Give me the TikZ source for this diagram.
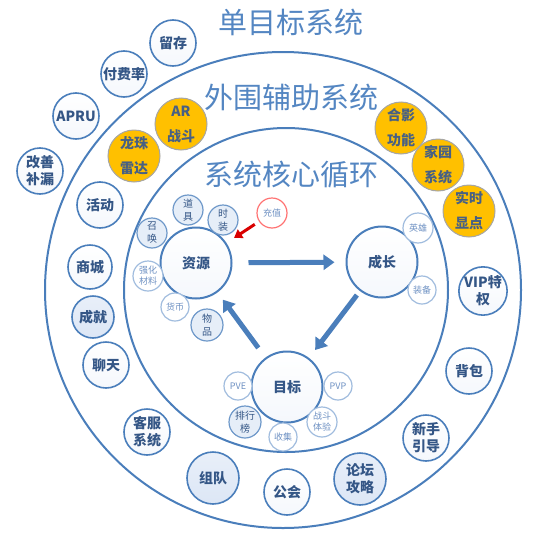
\documentclass[tikz,border=0pt]{standalone}
\usepackage{fontspec}
\newfontfamily\cjk{Noto Sans CJK SC}
\usetikzlibrary{arrows.meta}

\definecolor{ringblue}{RGB}{74,126,187}
\definecolor{titleblue}{RGB}{84,134,194}
\definecolor{textblue}{RGB}{52,86,134}
\definecolor{lightline}{RGB}{160,188,222}
\definecolor{lighttext}{RGB}{110,145,195}
\definecolor{paleblue}{RGB}{214,226,244}
\definecolor{gold}{RGB}{255,192,0}

\tikzset{
  ring/.style={draw=ringblue,line width=2pt},
  title/.style={text=titleblue,font=\cjk\fontsize{29}{29}\selectfont},
  ball/.style={circle,inner sep=0pt,align=center,draw=ringblue,line width=1.6pt,
    text=textblue,font=\cjk\bfseries\fontsize{14}{17}\selectfont,
    top color=white,bottom color=paleblue!25},
  paleball/.style={ball,top color=paleblue!55,bottom color=paleblue!85},
  goldball/.style={ball,draw=gray!70,line width=1pt,fill=gold,top color=gold,bottom color=gold,
    text=textblue!75!gray,font=\cjk\bfseries\fontsize{14}{25}\selectfont},
  core/.style={ball,line width=2pt,minimum size=71pt},
  small/.style={circle,inner sep=0pt,align=center,draw=ringblue!80,line width=1.2pt,
    fill=paleblue!60,text=textblue,font=\cjk\fontsize{10}{13}\selectfont},
  faint/.style={small,draw=lightline,fill=white,text=lighttext,font=\cjk\fontsize{9}{11}\selectfont},
  bigarrow/.style={-{Triangle[length=11pt,width=15pt]},line width=5pt,draw=ringblue},
  redarrow/.style={-{Triangle[length=8pt,width=10pt]},line width=3pt,draw=red!85!black}
}

\begin{document}
\begin{tikzpicture}[x=1pt,y=-1pt]
\useasboundingbox (0,0) rectangle (554,549);

% the two rings
\draw[ring] (283,290) circle (238);
\draw[ring] (286,290) circle (162);

\node[title] (t1) at (291,22) {单目标系统};
\node[title] (t2) at (291,97) {外围辅助系统};
\node[title] (t3) at (291,175) {系统核心循环};

% outside the rings
\foreach \x/\y/\r/\nm/\txt in {
    173/43/23/keep/留存,
    124/74/23/payrate/付费率,
    76/116/23/arpu/APRU,
    40/171/23/fix/{改善\\补漏}}
  \node[ball,minimum size=2*\r] (\nm) at (\x,\y) {\txt};

% outer ring
\foreach \x/\y/\r/\nm/\txt in {
    100/205/23/act/活动,
    90/267/22/shop/商城,
    106/365/23/chat/聊天,
    147/432/23/cs/{客服\\系统},
    287/492/23/guild/公会,
    426/438/23/guide/{新手\\引导},
    469/371/23/bag/背包,
    483/291/23/vip/{VIP特\\权}}
  \node[ball,minimum size=2*\r] (\nm) at (\x,\y) {\txt};
\foreach \x/\y/\r/\nm/\txt in {
    93/317/21/ach/成就,
    213/478/26/team/组队,
    360/479/26/forum/{论坛\\攻略}}
  \node[paleball,minimum size=2*\r] (\nm) at (\x,\y) {\txt};
\foreach \x/\y/\nm/\txt in {
    181/124/ar/{AR\\战斗},
    134/156/radar/{龙珠\\雷达},
    401/128/photo/{合影\\功能},
    438/165/home/{家园\\系统},
    469/211/spot/{实时\\显点}}
  \node[goldball,minimum size=52] (\nm) at (\x,\y) {\txt};

% core loop
\node[core] (res) at (196,263) {资源};
\node[core] (grow) at (382,262) {成长};
\node[core] (goal) at (287,387) {目标};

\foreach \x/\y/\r/\nm/\txt in {
    188/210/15/prop/{道\\具},
    223/220/15/skin/{时\\装},
    152/233/15/summon/{召\\唤},
    207/325/16/item/{物\\品},
    245/422/16/rank/{排行\\榜}}
  \node[small,minimum size=2*\r] (\nm) at (\x,\y) {\txt};
\foreach \x/\y/\r/\nm/\txt in {
    148/276/15/mat/{强化\\材料},
    175/307/14/coin/货币,
    418/228/15/hero/英雄,
    422/290/14/equip/装备,
    238/386/14/pve/PVE,
    338/386/14/pvp/PVP,
    283/437/14/collect/收集,
    322/422/15/fight/{战斗\\体验}}
  \node[faint,minimum size=2*\r] (\nm) at (\x,\y) {\txt};
\node[faint,draw=red!55,minimum size=30] (topup) at (272,213) {充值};

\draw[bigarrow,shorten <=16pt,shorten >=11pt] (res) -- (grow);
\draw[bigarrow,shorten <=5pt,shorten >=10pt] (grow) -- (goal);
\draw[bigarrow,shorten <=12pt,shorten >=9pt] (goal) -- (res);
\draw[redarrow,shorten <=5pt,shorten >=9pt] (topup) -- (res);

\end{tikzpicture}
\end{document}
